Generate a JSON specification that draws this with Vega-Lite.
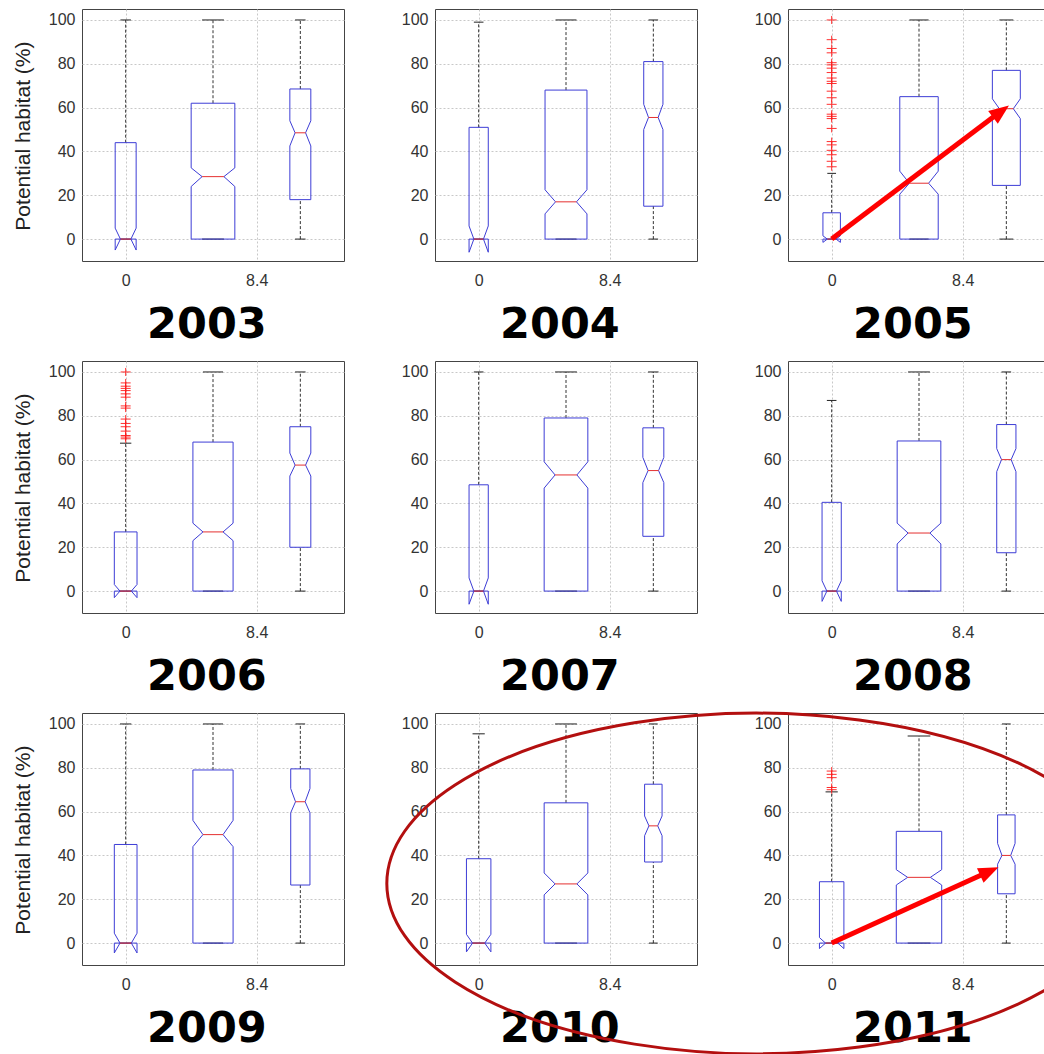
{
"$schema": "https://vega.github.io/schema/vega-lite/v6.json",
"background": "white",
"padding": {"left": 12, "top": 7, "right": 0, "bottom": 0},
"bounds": "flush",
"data": {"values": [
{"year":2003,"pos":1,"lo":0,"q1":0,"med":0,"q3":44,"hi":100,"nlo":-5,"nhi":5,"w":0.12},
{"year":2003,"pos":2,"lo":0,"q1":0,"med":28.5,"q3":62,"hi":100,"nlo":24,"nhi":32.5,"w":0.25},
{"year":2003,"pos":3,"lo":0,"q1":18,"med":48.5,"q3":68.5,"hi":100,"nlo":42.5,"nhi":54,"w":0.12},
{"year":2004,"pos":1,"lo":0,"q1":0,"med":0,"q3":51,"hi":99,"nlo":-6,"nhi":6,"w":0.11},
{"year":2004,"pos":2,"lo":0,"q1":0,"med":17,"q3":68,"hi":100,"nlo":11.5,"nhi":22.5,"w":0.24},
{"year":2004,"pos":3,"lo":0,"q1":15,"med":55.5,"q3":81,"hi":100,"nlo":50,"nhi":61.5,"w":0.11},
{"year":2005,"pos":1,"lo":0,"q1":0,"med":0,"q3":12,"hi":30,"nlo":-1.5,"nhi":1.5,"w":0.1},
{"year":2005,"pos":2,"lo":0,"q1":0,"med":25.5,"q3":65,"hi":100,"nlo":20.5,"nhi":31,"w":0.22},
{"year":2005,"pos":3,"lo":0,"q1":24.5,"med":59.5,"q3":77,"hi":100,"nlo":55,"nhi":64,"w":0.16},
{"year":2006,"pos":1,"lo":0,"q1":0,"med":0,"q3":27,"hi":67.5,"nlo":-3,"nhi":3,"w":0.13},
{"year":2006,"pos":2,"lo":0,"q1":0,"med":27,"q3":68,"hi":100,"nlo":23,"nhi":31,"w":0.23},
{"year":2006,"pos":3,"lo":0,"q1":20,"med":57.5,"q3":75,"hi":100,"nlo":52.5,"nhi":63,"w":0.12},
{"year":2007,"pos":1,"lo":0,"q1":0,"med":0,"q3":48.5,"hi":100,"nlo":-6,"nhi":6,"w":0.11},
{"year":2007,"pos":2,"lo":0,"q1":0,"med":53,"q3":79,"hi":100,"nlo":47,"nhi":59,"w":0.25},
{"year":2007,"pos":3,"lo":0,"q1":25,"med":55,"q3":74.5,"hi":100,"nlo":49.5,"nhi":61,"w":0.12},
{"year":2008,"pos":1,"lo":0,"q1":0,"med":0,"q3":40.5,"hi":87,"nlo":-4.7,"nhi":4.7,"w":0.11},
{"year":2008,"pos":2,"lo":0,"q1":0,"med":26.5,"q3":68.5,"hi":100,"nlo":21.5,"nhi":31,"w":0.25},
{"year":2008,"pos":3,"lo":0,"q1":17.5,"med":60,"q3":76,"hi":100,"nlo":54.5,"nhi":65,"w":0.11},
{"year":2009,"pos":1,"lo":0,"q1":0,"med":0,"q3":45,"hi":100,"nlo":-4.5,"nhi":4.5,"w":0.13},
{"year":2009,"pos":2,"lo":0,"q1":0,"med":49.5,"q3":79,"hi":100,"nlo":44,"nhi":56,"w":0.23},
{"year":2009,"pos":3,"lo":0,"q1":26.5,"med":64.5,"q3":79.5,"hi":100,"nlo":59.5,"nhi":70.5,"w":0.11},
{"year":2010,"pos":1,"lo":0,"q1":0,"med":0,"q3":38.5,"hi":95.5,"nlo":-4,"nhi":4,"w":0.14},
{"year":2010,"pos":2,"lo":0,"q1":0,"med":27,"q3":64,"hi":100,"nlo":22,"nhi":32,"w":0.25},
{"year":2010,"pos":3,"lo":0,"q1":37,"med":53.5,"q3":72.5,"hi":100,"nlo":49,"nhi":58,"w":0.1},
{"year":2011,"pos":1,"lo":0,"q1":0,"med":0,"q3":28,"hi":69,"nlo":-2.5,"nhi":2.5,"w":0.14},
{"year":2011,"pos":2,"lo":0,"q1":0,"med":30,"q3":51,"hi":94.5,"nlo":26.5,"nhi":33.5,"w":0.26},
{"year":2011,"pos":3,"lo":0,"q1":22.5,"med":40,"q3":58.5,"hi":100,"nlo":36,"nhi":45.5,"w":0.1},
{"year":2005,"pos":1,"out":100},{"year":2005,"pos":1,"out":91},{"year":2005,"pos":1,"out":87},{"year":2005,"pos":1,"out":85},
{"year":2005,"pos":1,"out":80.5},{"year":2005,"pos":1,"out":79.5},{"year":2005,"pos":1,"out":78},{"year":2005,"pos":1,"out":76},
{"year":2005,"pos":1,"out":73.5},{"year":2005,"pos":1,"out":72},{"year":2005,"pos":1,"out":71},{"year":2005,"pos":1,"out":67.5},
{"year":2005,"pos":1,"out":64.5},{"year":2005,"pos":1,"out":61.5},{"year":2005,"pos":1,"out":57},{"year":2005,"pos":1,"out":56},
{"year":2005,"pos":1,"out":55},{"year":2005,"pos":1,"out":50.5},{"year":2005,"pos":1,"out":44.5},{"year":2005,"pos":1,"out":43},
{"year":2005,"pos":1,"out":40.5},{"year":2005,"pos":1,"out":38.5},{"year":2005,"pos":1,"out":35.5},{"year":2005,"pos":1,"out":33},
{"year":2006,"pos":1,"out":100},{"year":2006,"pos":1,"out":95},{"year":2006,"pos":1,"out":93.5},{"year":2006,"pos":1,"out":92.5},
{"year":2006,"pos":1,"out":91.5},{"year":2006,"pos":1,"out":90},{"year":2006,"pos":1,"out":88.5},{"year":2006,"pos":1,"out":84.5},
{"year":2006,"pos":1,"out":83.5},{"year":2006,"pos":1,"out":78.5},{"year":2006,"pos":1,"out":76.5},{"year":2006,"pos":1,"out":75},
{"year":2006,"pos":1,"out":73},{"year":2006,"pos":1,"out":71},{"year":2006,"pos":1,"out":70.3},{"year":2006,"pos":1,"out":69.5},
{"year":2011,"pos":1,"out":78.5},{"year":2011,"pos":1,"out":77},{"year":2011,"pos":1,"out":75.5},{"year":2011,"pos":1,"out":71},{"year":2011,"pos":1,"out":70}
]},
"facet": {"field": "year", "type": "ordinal", "header": {"title": null, "labels": false, "labelExpr": "''", "labelFontSize": 1, "labelPadding": 0}},
"columns": 3,
"spacing": {"row": 100, "column": 91},
"resolve": {"axis": {"x": "independent", "y": "independent"}},
"spec": {
"width": 262, "height": 252,
"transform": [
{"calculate": "datum.pos - datum.w", "as": "xl"},
{"calculate": "datum.pos + datum.w", "as": "xr"},
{"calculate": "datum.pos - datum.w / 2", "as": "xnl"},
{"calculate": "datum.pos + datum.w / 2", "as": "xnr"}
],
"layer": [
{"transform": [{"filter": "isValid(datum.q1)"}], "mark": {"type": "rule", "stroke": "#333", "strokeWidth": 1, "strokeDash": [3, 2]},
 "encoding": {"x": {"field": "pos", "type": "quantitative", "title": null, "scale": {"domain": [0.5, 3.5], "nice": false, "zero": false},
   "axis": {"values": [1, 2.5], "labelExpr": "datum.value == 1 ? '0' : '8.4'", "labelPadding": 11}},
  "y": {"field": "q3", "type": "quantitative", "title": null, "scale": {"domain": [-10, 105], "nice": false, "zero": false},
   "axis": {"values": [0, 20, 40, 60, 80, 100], "labelPadding": 7}}, "y2": {"field": "hi"}}},
{"transform": [{"filter": "isValid(datum.q1)"}], "mark": {"type": "rule", "stroke": "#333", "strokeWidth": 1, "strokeDash": [3, 2]},
 "encoding": {"x": {"field": "pos", "type": "quantitative", "scale": {"domain": [0.5, 3.5], "nice": false, "zero": false}},
  "y": {"field": "lo", "type": "quantitative", "scale": {"domain": [-10, 105], "nice": false, "zero": false}}, "y2": {"field": "q1"}}},
{"transform": [{"filter": "isValid(datum.q1)"}], "mark": {"type": "rule", "stroke": "#222", "strokeWidth": 1},
 "encoding": {"x": {"field": "xnl", "type": "quantitative", "scale": {"domain": [0.5, 3.5], "nice": false, "zero": false}}, "x2": {"field": "xnr"},
  "y": {"field": "hi", "type": "quantitative", "scale": {"domain": [-10, 105], "nice": false, "zero": false}}}},
{"transform": [{"filter": "isValid(datum.q1)"}], "mark": {"type": "rule", "stroke": "#222", "strokeWidth": 1},
 "encoding": {"x": {"field": "xnl", "type": "quantitative", "scale": {"domain": [0.5, 3.5], "nice": false, "zero": false}}, "x2": {"field": "xnr"},
  "y": {"field": "lo", "type": "quantitative", "scale": {"domain": [-10, 105], "nice": false, "zero": false}}}},
{"transform": [{"filter": "isValid(datum.q1)"}], "mark": {"type": "rule", "stroke": "#3d3dd6", "strokeWidth": 1},
 "encoding": {"x": {"field": "xl", "type": "quantitative", "scale": {"domain": [0.5, 3.5], "nice": false, "zero": false}}, "x2": {"field": "xr"},
  "y": {"field": "q1", "type": "quantitative", "scale": {"domain": [-10, 105], "nice": false, "zero": false}}}},
{"transform": [{"filter": "isValid(datum.q1)"}], "mark": {"type": "rule", "stroke": "#3d3dd6", "strokeWidth": 1},
 "encoding": {"x": {"field": "xl", "type": "quantitative", "scale": {"domain": [0.5, 3.5], "nice": false, "zero": false}}, "x2": {"field": "xr"},
  "y": {"field": "q3", "type": "quantitative", "scale": {"domain": [-10, 105], "nice": false, "zero": false}}}},
{"transform": [{"filter": "isValid(datum.q1)"}], "mark": {"type": "rule", "stroke": "#3d3dd6", "strokeWidth": 1},
 "encoding": {"x": {"field": "xr", "type": "quantitative", "scale": {"domain": [0.5, 3.5], "nice": false, "zero": false}},
  "y": {"field": "q1", "type": "quantitative", "scale": {"domain": [-10, 105], "nice": false, "zero": false}}, "y2": {"field": "nlo"}}},
{"transform": [{"filter": "isValid(datum.q1)"}], "mark": {"type": "rule", "stroke": "#3d3dd6", "strokeWidth": 1},
 "encoding": {"x": {"field": "xr", "type": "quantitative", "scale": {"domain": [0.5, 3.5], "nice": false, "zero": false}}, "x2": {"field": "xnr"},
  "y": {"field": "nlo", "type": "quantitative", "scale": {"domain": [-10, 105], "nice": false, "zero": false}}, "y2": {"field": "med"}}},
{"transform": [{"filter": "isValid(datum.q1)"}], "mark": {"type": "rule", "stroke": "#3d3dd6", "strokeWidth": 1},
 "encoding": {"x": {"field": "xnr", "type": "quantitative", "scale": {"domain": [0.5, 3.5], "nice": false, "zero": false}}, "x2": {"field": "xr"},
  "y": {"field": "med", "type": "quantitative", "scale": {"domain": [-10, 105], "nice": false, "zero": false}}, "y2": {"field": "nhi"}}},
{"transform": [{"filter": "isValid(datum.q1)"}], "mark": {"type": "rule", "stroke": "#3d3dd6", "strokeWidth": 1},
 "encoding": {"x": {"field": "xr", "type": "quantitative", "scale": {"domain": [0.5, 3.5], "nice": false, "zero": false}},
  "y": {"field": "nhi", "type": "quantitative", "scale": {"domain": [-10, 105], "nice": false, "zero": false}}, "y2": {"field": "q3"}}},
{"transform": [{"filter": "isValid(datum.q1)"}], "mark": {"type": "rule", "stroke": "#3d3dd6", "strokeWidth": 1},
 "encoding": {"x": {"field": "xl", "type": "quantitative", "scale": {"domain": [0.5, 3.5], "nice": false, "zero": false}},
  "y": {"field": "q1", "type": "quantitative", "scale": {"domain": [-10, 105], "nice": false, "zero": false}}, "y2": {"field": "nlo"}}},
{"transform": [{"filter": "isValid(datum.q1)"}], "mark": {"type": "rule", "stroke": "#3d3dd6", "strokeWidth": 1},
 "encoding": {"x": {"field": "xl", "type": "quantitative", "scale": {"domain": [0.5, 3.5], "nice": false, "zero": false}}, "x2": {"field": "xnl"},
  "y": {"field": "nlo", "type": "quantitative", "scale": {"domain": [-10, 105], "nice": false, "zero": false}}, "y2": {"field": "med"}}},
{"transform": [{"filter": "isValid(datum.q1)"}], "mark": {"type": "rule", "stroke": "#3d3dd6", "strokeWidth": 1},
 "encoding": {"x": {"field": "xnl", "type": "quantitative", "scale": {"domain": [0.5, 3.5], "nice": false, "zero": false}}, "x2": {"field": "xl"},
  "y": {"field": "med", "type": "quantitative", "scale": {"domain": [-10, 105], "nice": false, "zero": false}}, "y2": {"field": "nhi"}}},
{"transform": [{"filter": "isValid(datum.q1)"}], "mark": {"type": "rule", "stroke": "#3d3dd6", "strokeWidth": 1},
 "encoding": {"x": {"field": "xl", "type": "quantitative", "scale": {"domain": [0.5, 3.5], "nice": false, "zero": false}},
  "y": {"field": "nhi", "type": "quantitative", "scale": {"domain": [-10, 105], "nice": false, "zero": false}}, "y2": {"field": "q3"}}},
{"transform": [{"filter": "isValid(datum.q1)"}], "mark": {"type": "rule", "stroke": "#e53030", "strokeWidth": 1},
 "encoding": {"x": {"field": "xnl", "type": "quantitative", "scale": {"domain": [0.5, 3.5], "nice": false, "zero": false}}, "x2": {"field": "xnr"},
  "y": {"field": "med", "type": "quantitative", "scale": {"domain": [-10, 105], "nice": false, "zero": false}}}},
{"transform": [{"filter": "isValid(datum.out)"}], "mark": {"type": "point", "shape": "M-1,0L1,0M0,-0.8L0,0.8", "filled": false, "color": "#ff1a1a", "strokeWidth": 1, "size": 100, "opacity": 0.9},
 "encoding": {"x": {"field": "pos", "type": "quantitative", "scale": {"domain": [0.5, 3.5], "nice": false, "zero": false}},
  "y": {"field": "out", "type": "quantitative", "scale": {"domain": [-10, 105], "nice": false, "zero": false}}}},
{"transform": [{"filter": "isValid(datum.q1) && datum.pos == 1 && datum.year % 3 == 2"}], "mark": {"type": "text", "angle": 270, "font": "Liberation Sans", "fontSize": 21, "color": "#222", "align": "center", "baseline": "middle"},
 "encoding": {"x": {"datum": -0.16, "type": "quantitative", "scale": {"domain": [0.5, 3.5], "nice": false, "zero": false}},
  "y": {"datum": 47, "type": "quantitative", "scale": {"domain": [-10, 105], "nice": false, "zero": false}}, "text": {"value": "Potential habitat (%)"}}},
{"transform": [{"filter": "isValid(datum.q1) && datum.pos == 1"}], "mark": {"type": "text", "font": "DejaVu Sans", "fontSize": 43, "fontWeight": "bold", "color": "#000", "align": "center", "baseline": "alphabetic"},
 "encoding": {"x": {"datum": 1.93, "type": "quantitative", "scale": {"domain": [0.5, 3.5], "nice": false, "zero": false}},
  "y": {"datum": -45, "type": "quantitative", "scale": {"domain": [-10, 105], "nice": false, "zero": false}}, "text": {"field": "year", "type": "nominal"}}},
{"transform": [{"filter": "isValid(datum.q1) && datum.pos == 1 && datum.year == 2005"}], "mark": {"type": "rule", "stroke": "#ff0000", "strokeWidth": 5},
 "encoding": {"x": {"field": "pos", "type": "quantitative", "scale": {"domain": [0.5, 3.5], "nice": false, "zero": false}}, "x2": {"datum": 2.9},
  "y": {"field": "med", "type": "quantitative", "scale": {"domain": [-10, 105], "nice": false, "zero": false}}, "y2": {"datum": 57.2}}},
{"transform": [{"filter": "isValid(datum.q1) && datum.pos == 1 && datum.year == 2005"}], "mark": {"type": "point", "shape": "M0,0L0.8,2L-0.8,2Z", "filled": true, "color": "#ff0000", "strokeWidth": 0, "size": 400, "angle": 52.9, "opacity": 1},
 "encoding": {"x": {"datum": 3.03, "type": "quantitative", "scale": {"domain": [0.5, 3.5], "nice": false, "zero": false}},
  "y": {"datum": 61, "type": "quantitative", "scale": {"domain": [-10, 105], "nice": false, "zero": false}}}},
{"transform": [{"filter": "isValid(datum.q1) && datum.pos == 1 && datum.year == 2011"}], "mark": {"type": "rule", "stroke": "#ff0000", "strokeWidth": 5},
 "encoding": {"x": {"field": "pos", "type": "quantitative", "scale": {"domain": [0.5, 3.5], "nice": false, "zero": false}}, "x2": {"datum": 2.764},
  "y": {"field": "med", "type": "quantitative", "scale": {"domain": [-10, 105], "nice": false, "zero": false}}, "y2": {"datum": 31.96}}},
{"transform": [{"filter": "isValid(datum.q1) && datum.pos == 1 && datum.year == 2011"}], "mark": {"type": "point", "shape": "M0,0L0.8,2L-0.8,2Z", "filled": true, "color": "#ff0000", "strokeWidth": 0, "size": 400, "angle": 65.6, "opacity": 1},
 "encoding": {"x": {"datum": 2.91, "type": "quantitative", "scale": {"domain": [0.5, 3.5], "nice": false, "zero": false}},
  "y": {"datum": 34.6, "type": "quantitative", "scale": {"domain": [-10, 105], "nice": false, "zero": false}}}},
{"transform": [{"filter": "isValid(datum.q1) && datum.pos == 1 && datum.year == 2011"}], "mark": {"type": "point", "shape": "M0.781,-0.287A1,0.46,0,1,0,0.781,0.287", "filled": false, "color": "#b30f0f", "strokeWidth": 3, "size": 547600, "opacity": 1},
 "encoding": {"x": {"datum": 0.145, "type": "quantitative", "scale": {"domain": [0.5, 3.5], "nice": false, "zero": false}},
  "y": {"datum": 27.2, "type": "quantitative", "scale": {"domain": [-10, 105], "nice": false, "zero": false}}}}
]
},
"config": {
"view": {"stroke": "#444", "strokeWidth": 1},
"header": {"labels": false, "title": null, "labelFontSize": 1, "labelPadding": 0},
"headerFacet": {"labels": false, "title": null, "labelFontSize": 1, "labelPadding": 0},
"axis": {"grid": true, "gridColor": "#c8c8c8", "gridDash": [2, 2], "gridWidth": 1, "domain": false, "ticks": false, "labelFont": "Liberation Sans", "labelFontSize": 16, "labelColor": "#333"}
}
}
